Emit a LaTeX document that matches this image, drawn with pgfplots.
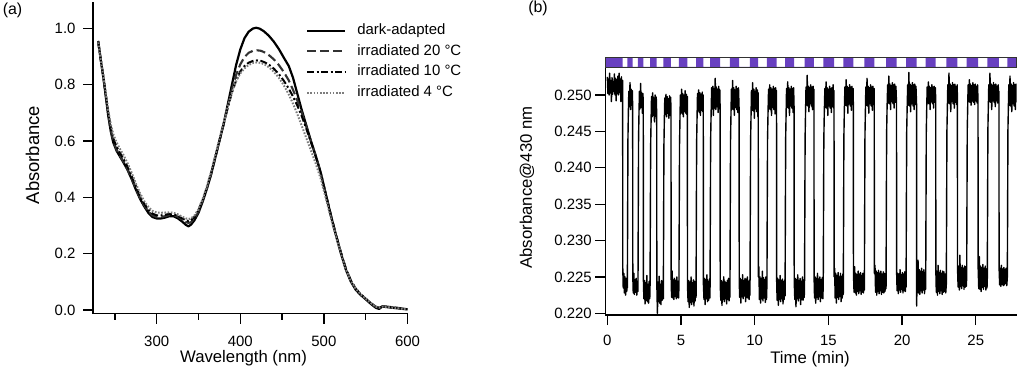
\documentclass[border=0pt]{standalone}
\usepackage{pgfplots}
\pgfplotsset{compat=1.18}
\usepackage{pgfplotstable}
\usepackage{fontspec}
\setmainfont{Liberation Sans}
\definecolor{violetbar}{RGB}{104,64,192}
\definecolor{dgray}{RGB}{50,50,50}
\definecolor{lgray}{RGB}{125,125,125}

\pgfplotstableread{
wl A
230 0.955
233 0.89
236 0.83
239 0.76
242 0.69
245 0.635
248 0.595
252 0.565
256 0.545
260 0.525
265 0.498
270 0.465
275 0.428
280 0.395
285 0.368
290 0.345
295 0.330
300 0.325
305 0.325
310 0.328
315 0.333
320 0.333
325 0.326
330 0.315
335 0.302
338 0.297
341 0.303
345 0.318
350 0.345
355 0.385
360 0.430
365 0.480
370 0.540
375 0.600
380 0.660
385 0.730
390 0.800
395 0.870
400 0.925
405 0.965
410 0.988
415 0.999
419 1.002
423 0.999
428 0.990
434 0.974
440 0.953
446 0.927
452 0.896
458 0.866
463 0.825
468 0.770
473 0.715
478 0.665
484 0.605
490 0.550
496 0.490
502 0.415
508 0.340
514 0.270
520 0.205
526 0.145
532 0.102
538 0.072
544 0.053
550 0.038
556 0.022
562 0.008
566 0.004
570 0.012
576 0.010
582 0.008
588 0.006
594 0.004
600 0.002
}\darktab

\pgfplotstableread{
wl A
230 0.955
233 0.89
236 0.83
239 0.765
242 0.695
245 0.64
248 0.60
252 0.57
256 0.548
260 0.528
265 0.500
270 0.468
275 0.432
280 0.398
285 0.372
290 0.350
295 0.336
300 0.330
305 0.330
310 0.333
315 0.337
320 0.337
325 0.332
330 0.322
335 0.312
338 0.309
341 0.312
345 0.325
350 0.350
355 0.388
360 0.432
365 0.482
370 0.540
375 0.600
380 0.658
385 0.722
390 0.782
395 0.835
400 0.872
405 0.898
410 0.913
415 0.920
420 0.922
425 0.920
430 0.913
435 0.903
440 0.890
446 0.870
452 0.845
458 0.815
463 0.782
468 0.745
473 0.705
478 0.660
484 0.603
490 0.548
496 0.490
502 0.415
508 0.342
514 0.272
520 0.208
526 0.150
532 0.106
538 0.076
544 0.056
550 0.040
556 0.025
562 0.012
566 0.008
570 0.014
576 0.012
582 0.010
588 0.008
594 0.005
600 0.003
}\twentytab

\pgfplotstableread{
wl A
230 0.952
233 0.89
236 0.832
239 0.768
242 0.70
245 0.648
248 0.61
252 0.58
256 0.558
260 0.538
265 0.510
270 0.476
275 0.440
280 0.405
285 0.378
290 0.356
295 0.342
300 0.336
305 0.336
310 0.338
315 0.341
320 0.340
325 0.335
330 0.326
335 0.318
338 0.316
341 0.318
345 0.330
350 0.354
355 0.391
360 0.435
365 0.485
370 0.543
375 0.602
380 0.660
385 0.718
390 0.772
395 0.815
400 0.847
405 0.866
410 0.878
415 0.884
420 0.886
425 0.884
430 0.878
435 0.869
440 0.857
446 0.838
452 0.814
458 0.786
463 0.758
468 0.727
473 0.692
478 0.652
484 0.600
490 0.546
496 0.488
502 0.413
508 0.340
514 0.271
520 0.207
526 0.149
532 0.106
538 0.076
544 0.056
550 0.040
556 0.025
562 0.012
566 0.008
570 0.013
576 0.011
582 0.009
588 0.007
594 0.005
600 0.003
}\tentab

\pgfplotstableread{
wl A
230 0.950
233 0.89
236 0.835
239 0.775
242 0.71
245 0.66
248 0.625
252 0.595
256 0.572
260 0.552
265 0.522
270 0.488
275 0.450
280 0.415
285 0.387
290 0.366
295 0.352
300 0.346
305 0.345
310 0.346
315 0.347
320 0.345
325 0.340
330 0.332
335 0.325
338 0.323
341 0.325
345 0.335
350 0.358
355 0.395
360 0.440
365 0.490
370 0.548
375 0.607
380 0.664
385 0.722
390 0.772
395 0.812
400 0.840
405 0.858
410 0.870
415 0.877
420 0.879
425 0.877
430 0.870
435 0.860
440 0.846
446 0.825
452 0.798
458 0.765
463 0.733
468 0.697
473 0.658
478 0.618
484 0.570
490 0.522
496 0.468
502 0.400
508 0.330
514 0.265
520 0.203
526 0.147
532 0.105
538 0.076
544 0.056
550 0.040
556 0.025
562 0.012
566 0.008
570 0.012
576 0.010
582 0.008
588 0.006
594 0.004
600 0.003
}\fourtab

\pgfplotstableread{
t v
0.00 0.2525
0.04 0.2502
0.08 0.2522
0.12 0.2500
0.16 0.2530
0.20 0.2503
0.24 0.2520
0.28 0.2491
0.32 0.2524
0.36 0.2501
0.40 0.2518
0.44 0.2505
0.48 0.2529
0.52 0.2500
0.56 0.2523
0.60 0.2492
0.64 0.2521
0.68 0.2502
0.72 0.2526
0.76 0.2500
0.80 0.2530
0.84 0.2504
0.88 0.2522
0.92 0.2491
0.96 0.2525
1.00 0.2502
1.04 0.2520
1.05 0.2262
1.08 0.2235
1.12 0.2255
1.16 0.2228
1.20 0.2250
1.24 0.2225
1.28 0.2248
1.32 0.2230
1.35 0.2245
1.36 0.2235
1.40 0.2440
1.43 0.2478
1.46 0.2505
1.50 0.2484
1.54 0.2517
1.58 0.2480
1.62 0.2508
1.66 0.2486
1.70 0.2506
1.72 0.2483
1.73 0.2250
1.76 0.2228
1.80 0.2255
1.84 0.2226
1.88 0.2246
1.92 0.2229
1.96 0.2248
2.00 0.2225
2.04 0.2244
2.08 0.2230
2.12 0.2440
2.15 0.2476
2.18 0.2505
2.22 0.2481
2.26 0.2516
2.30 0.2483
2.34 0.2503
2.38 0.2475
2.42 0.2502
2.44 0.2482
2.45 0.2245
2.48 0.2220
2.52 0.2245
2.56 0.2213
2.60 0.2242
2.64 0.2218
2.68 0.2252
2.72 0.2216
2.76 0.2240
2.80 0.2214
2.84 0.2244
2.88 0.2220
2.90 0.2238
2.94 0.2430
2.97 0.2465
3.00 0.2498
3.04 0.2470
3.08 0.2503
3.12 0.2472
3.16 0.2496
3.20 0.2463
3.24 0.2500
3.28 0.2471
3.32 0.2497
3.35 0.2474
3.36 0.2240
3.40 0.2200
3.44 0.2243
3.48 0.2216
3.52 0.2251
3.56 0.2214
3.60 0.2240
3.64 0.2212
3.68 0.2245
3.72 0.2218
3.76 0.2242
3.80 0.2220
3.84 0.2430
3.87 0.2466
3.90 0.2496
3.94 0.2473
3.98 0.2501
4.02 0.2470
4.06 0.2498
4.10 0.2475
4.14 0.2495
4.18 0.2468
4.22 0.2499
4.26 0.2472
4.30 0.2497
4.32 0.2476
4.33 0.2250
4.36 0.2222
4.40 0.2258
4.44 0.2221
4.48 0.2246
4.52 0.2219
4.56 0.2248
4.60 0.2223
4.64 0.2245
4.68 0.2220
4.72 0.2250
4.76 0.2222
4.80 0.2244
4.84 0.2221
4.86 0.2240
4.90 0.2432
4.93 0.2468
4.96 0.2500
5.00 0.2476
5.04 0.2508
5.08 0.2474
5.12 0.2502
5.16 0.2470
5.20 0.2500
5.24 0.2477
5.28 0.2506
5.32 0.2475
5.36 0.2501
5.40 0.2473
5.43 0.2498
5.44 0.2238
5.48 0.2216
5.52 0.2245
5.56 0.2208
5.60 0.2243
5.64 0.2215
5.68 0.2250
5.72 0.2212
5.76 0.2242
5.80 0.2216
5.84 0.2246
5.88 0.2210
5.92 0.2244
5.96 0.2217
6.00 0.2240
6.02 0.2222
6.06 0.2435
6.09 0.2470
6.12 0.2502
6.16 0.2478
6.20 0.2507
6.24 0.2476
6.28 0.2503
6.32 0.2472
6.36 0.2501
6.40 0.2479
6.44 0.2504
6.48 0.2477
6.51 0.2500
6.52 0.2240
6.56 0.2219
6.60 0.2248
6.64 0.2212
6.68 0.2246
6.72 0.2220
6.76 0.2253
6.80 0.2216
6.84 0.2244
6.88 0.2218
6.92 0.2247
6.96 0.2221
6.97 0.2235
7.01 0.2438
7.04 0.2472
7.08 0.2510
7.12 0.2481
7.16 0.2512
7.20 0.2472
7.24 0.2509
7.28 0.2482
7.32 0.2523
7.36 0.2480
7.40 0.2511
7.44 0.2484
7.48 0.2508
7.52 0.2476
7.56 0.2512
7.60 0.2481
7.64 0.2507
7.65 0.2485
7.66 0.2240
7.70 0.2218
7.74 0.2245
7.78 0.2211
7.82 0.2243
7.86 0.2219
7.90 0.2250
7.94 0.2216
7.98 0.2244
8.02 0.2220
8.06 0.2242
8.10 0.2213
8.14 0.2245
8.18 0.2219
8.22 0.2248
8.26 0.2217
8.30 0.2243
8.32 0.2222
8.36 0.2438
8.39 0.2473
8.42 0.2508
8.46 0.2481
8.50 0.2520
8.54 0.2480
8.58 0.2510
8.62 0.2472
8.66 0.2507
8.70 0.2483
8.74 0.2512
8.78 0.2480
8.82 0.2509
8.86 0.2476
8.90 0.2510
8.94 0.2482
8.95 0.2245
8.98 0.2222
9.02 0.2248
9.06 0.2214
9.10 0.2246
9.14 0.2223
9.18 0.2253
9.22 0.2220
9.26 0.2245
9.30 0.2224
9.34 0.2248
9.38 0.2216
9.42 0.2247
9.46 0.2222
9.50 0.2250
9.54 0.2221
9.58 0.2244
9.62 0.2219
9.66 0.2246
9.68 0.2225
9.72 0.2436
9.75 0.2470
9.78 0.2506
9.82 0.2479
9.86 0.2517
9.90 0.2478
9.94 0.2508
9.98 0.2468
10.02 0.2505
10.06 0.2481
10.10 0.2510
10.14 0.2477
10.18 0.2507
10.22 0.2470
10.24 0.2503
10.25 0.2250
10.28 0.2264
10.32 0.2219
10.36 0.2250
10.40 0.2214
10.44 0.2248
10.48 0.2220
10.52 0.2258
10.56 0.2217
10.60 0.2249
10.64 0.2221
10.68 0.2246
10.72 0.2215
10.76 0.2250
10.80 0.2219
10.83 0.2240
10.87 0.2438
10.90 0.2472
10.94 0.2508
10.98 0.2481
11.02 0.2514
11.06 0.2480
11.10 0.2510
11.14 0.2472
11.18 0.2508
11.22 0.2483
11.26 0.2512
11.30 0.2480
11.34 0.2509
11.38 0.2474
11.42 0.2510
11.46 0.2482
11.48 0.2506
11.49 0.2245
11.52 0.2218
11.56 0.2248
11.60 0.2211
11.64 0.2246
11.68 0.2219
11.72 0.2252
11.76 0.2216
11.80 0.2245
11.84 0.2220
11.88 0.2247
11.92 0.2213
11.96 0.2244
12.00 0.2219
12.04 0.2246
12.06 0.2224
12.10 0.2440
12.13 0.2474
12.16 0.2509
12.20 0.2483
12.24 0.2518
12.28 0.2482
12.32 0.2510
12.36 0.2472
12.40 0.2508
12.44 0.2485
12.48 0.2512
12.52 0.2482
12.56 0.2509
12.60 0.2476
12.64 0.2510
12.67 0.2484
12.68 0.2245
12.72 0.2219
12.76 0.2248
12.80 0.2209
12.84 0.2246
12.88 0.2220
12.92 0.2253
12.96 0.2217
13.00 0.2245
13.04 0.2221
13.08 0.2248
13.12 0.2212
13.16 0.2244
13.20 0.2219
13.24 0.2250
13.28 0.2218
13.32 0.2246
13.36 0.2222
13.38 0.2238
13.42 0.2442
13.45 0.2477
13.48 0.2511
13.52 0.2486
13.56 0.2527
13.60 0.2485
13.64 0.2512
13.68 0.2477
13.72 0.2510
13.76 0.2488
13.80 0.2514
13.84 0.2485
13.88 0.2511
13.92 0.2480
13.96 0.2512
14.00 0.2487
14.02 0.2508
14.03 0.2248
14.06 0.2221
14.10 0.2250
14.14 0.2214
14.18 0.2248
14.22 0.2222
14.26 0.2255
14.30 0.2219
14.34 0.2247
14.38 0.2223
14.42 0.2250
14.46 0.2216
14.50 0.2246
14.54 0.2221
14.58 0.2249
14.62 0.2220
14.65 0.2238
14.69 0.2440
14.72 0.2475
14.76 0.2509
14.80 0.2483
14.84 0.2518
14.88 0.2482
14.92 0.2510
14.96 0.2472
15.00 0.2508
15.04 0.2485
15.08 0.2512
15.12 0.2482
15.16 0.2509
15.20 0.2476
15.24 0.2510
15.28 0.2484
15.32 0.2514
15.36 0.2482
15.38 0.2506
15.39 0.2250
15.42 0.2262
15.46 0.2221
15.50 0.2255
15.54 0.2214
15.58 0.2252
15.62 0.2222
15.66 0.2256
15.70 0.2219
15.74 0.2250
15.78 0.2223
15.82 0.2255
15.86 0.2216
15.90 0.2251
15.94 0.2221
15.98 0.2254
16.01 0.2226
16.05 0.2442
16.08 0.2478
16.12 0.2511
16.16 0.2486
16.20 0.2521
16.24 0.2485
16.28 0.2512
16.32 0.2475
16.36 0.2510
16.40 0.2488
16.44 0.2514
16.48 0.2485
16.52 0.2511
16.56 0.2479
16.60 0.2512
16.64 0.2487
16.68 0.2509
16.69 0.2488
16.70 0.2255
16.74 0.2229
16.78 0.2264
16.82 0.2228
16.86 0.2255
16.90 0.2225
16.94 0.2253
16.98 0.2230
17.02 0.2258
17.06 0.2227
17.10 0.2254
17.14 0.2231
17.18 0.2256
17.22 0.2226
17.26 0.2252
17.30 0.2229
17.34 0.2255
17.38 0.2228
17.42 0.2250
17.44 0.2232
17.48 0.2445
17.51 0.2478
17.54 0.2511
17.58 0.2486
17.62 0.2523
17.66 0.2485
17.70 0.2512
17.74 0.2475
17.78 0.2510
17.82 0.2488
17.86 0.2514
17.90 0.2485
17.94 0.2511
17.98 0.2479
18.02 0.2512
18.06 0.2487
18.10 0.2509
18.11 0.2490
18.12 0.2255
18.16 0.2266
18.20 0.2229
18.24 0.2258
18.28 0.2225
18.32 0.2256
18.36 0.2230
18.40 0.2259
18.44 0.2227
18.48 0.2255
18.52 0.2231
18.56 0.2258
18.60 0.2226
18.64 0.2254
18.68 0.2229
18.72 0.2257
18.76 0.2228
18.80 0.2255
18.84 0.2230
18.88 0.2252
18.91 0.2234
18.95 0.2448
18.98 0.2482
19.02 0.2514
19.06 0.2489
19.10 0.2526
19.14 0.2488
19.18 0.2515
19.22 0.2480
19.26 0.2513
19.30 0.2491
19.34 0.2517
19.38 0.2488
19.42 0.2514
19.46 0.2482
19.50 0.2515
19.54 0.2490
19.58 0.2512
19.62 0.2489
19.63 0.2255
19.66 0.2231
19.70 0.2255
19.74 0.2227
19.78 0.2254
19.82 0.2232
19.86 0.2260
19.90 0.2229
19.94 0.2253
19.98 0.2233
20.02 0.2256
20.06 0.2228
20.10 0.2254
20.14 0.2231
20.18 0.2257
20.22 0.2230
20.26 0.2252
20.27 0.2236
20.31 0.2448
20.34 0.2480
20.38 0.2514
20.42 0.2486
20.46 0.2531
20.50 0.2485
20.54 0.2515
20.58 0.2477
20.62 0.2513
20.66 0.2488
20.70 0.2517
20.74 0.2485
20.78 0.2514
20.82 0.2480
20.86 0.2515
20.90 0.2487
20.94 0.2512
20.98 0.2488
20.99 0.2210
21.01 0.2250
21.04 0.2229
21.08 0.2273
21.12 0.2228
21.16 0.2260
21.20 0.2226
21.24 0.2258
21.28 0.2231
21.32 0.2262
21.36 0.2228
21.40 0.2257
21.44 0.2232
21.48 0.2260
21.52 0.2227
21.56 0.2256
21.60 0.2233
21.64 0.2448
21.67 0.2481
21.70 0.2511
21.74 0.2489
21.78 0.2518
21.82 0.2488
21.86 0.2512
21.90 0.2480
21.94 0.2510
21.98 0.2491
22.02 0.2514
22.06 0.2488
22.10 0.2511
22.14 0.2482
22.18 0.2512
22.22 0.2490
22.26 0.2510
22.28 0.2489
22.29 0.2258
22.32 0.2229
22.36 0.2258
22.40 0.2225
22.44 0.2266
22.48 0.2230
22.52 0.2256
22.56 0.2227
22.60 0.2259
22.64 0.2231
22.68 0.2255
22.72 0.2226
22.76 0.2258
22.80 0.2229
22.84 0.2257
22.88 0.2230
22.92 0.2254
22.96 0.2228
23.00 0.2240
23.04 0.2450
23.07 0.2482
23.10 0.2514
23.14 0.2489
23.18 0.2530
23.22 0.2488
23.26 0.2515
23.30 0.2477
23.34 0.2513
23.38 0.2491
23.42 0.2517
23.46 0.2488
23.50 0.2514
23.54 0.2482
23.58 0.2515
23.62 0.2490
23.66 0.2512
23.70 0.2487
23.74 0.2514
23.75 0.2490
23.76 0.2262
23.80 0.2236
23.84 0.2265
23.88 0.2232
23.92 0.2280
23.96 0.2237
24.00 0.2263
24.04 0.2234
24.08 0.2266
24.12 0.2238
24.16 0.2262
24.20 0.2233
24.24 0.2265
24.28 0.2236
24.32 0.2264
24.36 0.2237
24.38 0.2250
24.42 0.2452
24.45 0.2484
24.48 0.2514
24.52 0.2491
24.56 0.2521
24.60 0.2490
24.64 0.2515
24.68 0.2486
24.72 0.2513
24.76 0.2492
24.80 0.2517
24.84 0.2490
24.88 0.2514
24.92 0.2487
24.96 0.2515
25.00 0.2492
25.04 0.2512
25.08 0.2489
25.12 0.2514
25.15 0.2491
25.16 0.2262
25.20 0.2234
25.24 0.2278
25.28 0.2233
25.32 0.2265
25.36 0.2230
25.40 0.2263
25.44 0.2236
25.48 0.2267
25.52 0.2233
25.56 0.2262
25.60 0.2237
25.64 0.2265
25.68 0.2232
25.72 0.2261
25.76 0.2235
25.78 0.2248
25.82 0.2452
25.85 0.2484
25.88 0.2514
25.92 0.2491
25.96 0.2530
26.00 0.2490
26.04 0.2515
26.08 0.2480
26.12 0.2513
26.16 0.2492
26.20 0.2517
26.24 0.2490
26.28 0.2514
26.32 0.2484
26.36 0.2515
26.40 0.2492
26.44 0.2512
26.48 0.2489
26.52 0.2514
26.56 0.2491
26.57 0.2505
26.58 0.2262
26.62 0.2239
26.66 0.2262
26.70 0.2237
26.74 0.2266
26.78 0.2240
26.82 0.2261
26.86 0.2238
26.90 0.2263
26.94 0.2239
26.98 0.2260
27.02 0.2241
27.06 0.2262
27.10 0.2238
27.14 0.2250
27.18 0.2452
27.21 0.2484
27.24 0.2514
27.28 0.2486
27.32 0.2526
27.36 0.2485
27.40 0.2515
27.44 0.2477
27.48 0.2513
27.52 0.2488
27.56 0.2517
27.60 0.2485
27.64 0.2514
27.68 0.2480
27.72 0.2515
27.75 0.2490
}\kintab

\pgfplotsset{
  igor/.style={
    scale only axis,
    axis lines=left,
    axis line style={-, line width=1.3bp, black},
    tick align=outside,
    major tick length=10bp,
    minor tick length=6bp,
    every tick/.style={black, line width=1.3bp},
    tick label style={font=\fontsize{15}{18}\selectfont},
    label style={font=\fontsize{16.8}{20}\selectfont},
    /pgf/number format/assume math mode=true,
    scaled ticks=false,
  },
}

\begin{document}
\begin{tikzpicture}
% ---------------- panel (a)
\begin{axis}[igor,
  at={(93bp,54.5bp)}, anchor=south west,
  width=314.5bp, height=311.5bp,
  xmin=223.8, xmax=600, ymin=-0.0124, ymax=1.0934,
  xtick={300,400,500,600},
  minor xtick={250,350,450,550},
  ytick={0,0.2,0.4,0.6,0.8,1.0},
  yticklabel style={xshift=-4bp, /pgf/number format/fixed, /pgf/number format/fixed zerofill, /pgf/number format/precision=1},
  xticklabel style={yshift=-9bp},
  xlabel={Wavelength (nm)},
  ylabel={Absorbance},
  xlabel style={at={(axis description cs:0.4785,-0.1420)}, anchor=center},
  ylabel style={at={(axis description cs:-0.1924,0.5088)}, anchor=center, font=\fontsize{18.5}{22}\selectfont},
  legend image code/.code={\draw[#1] (0bp,0bp) -- (38bp,0bp); \path (43bp,0bp);},
  legend cell align=left,
  legend style={draw=none, fill=none, at={(axis description cs:0.677,0.942)}, anchor=north west,
    inner sep=0pt, row sep=0pt, column sep=0pt,
    nodes={font=\fontsize{15}{18}\selectfont, inner xsep=6bp, inner ysep=3.1bp, text height=11bp, text depth=3.5bp}},
]
\addplot[black, line width=2.2bp, line join=round] table[x=wl, y=A] {\darktab};
\addlegendentry{dark-adapted}
\addplot[dgray, line width=2.1bp, dash pattern=on 9bp off 4bp, line join=round] table[x=wl, y=A] {\twentytab};
\addlegendentry{irradiated 20 °C}
\addplot[black, line width=2bp, dash pattern=on 7bp off 2.5bp on 2bp off 2.5bp, line join=round] table[x=wl, y=A] {\tentab};
\addlegendentry{irradiated 10 °C}
\addplot[lgray, line width=2bp, dash pattern=on 1.6bp off 1.6bp, line join=round] table[x=wl, y=A] {\fourtab};
\addlegendentry{irradiated 4 °C}
\end{axis}

% ---------------- panel (b)
\begin{axis}[igor,
  at={(605.3bp,53bp)}, anchor=south west,
  width=411.4bp, height=248.3bp,
  xmin=-0.136, xmax=27.775, ymin=0.21977, ymax=0.25389,
  xtick={0,5,10,15,20,25},
  ytick={0.220,0.225,0.230,0.235,0.240,0.245,0.250},
  yticklabel style={xshift=0bp, /pgf/number format/fixed, /pgf/number format/fixed zerofill, /pgf/number format/precision=3},
  xticklabel style={yshift=-7bp},
  xlabel={Time (min)},
  ylabel={Absorbance@430 nm},
  xlabel style={at={(axis description cs:0.4976,-0.1760)}, anchor=center},
  ylabel style={at={(axis description cs:-0.1903,0.5135)}, anchor=center},
]
\addplot[black, line width=1.4bp, line join=round] table[x=t, y=v] {\kintab};
\end{axis}

% ---------------- light bar above panel (b)
\begin{axis}[
  scale only axis,
  at={(605.3bp,301bp)}, anchor=south west,
  width=411.4bp, height=9.7bp,
  xmin=-0.136, xmax=27.775, ymin=0, ymax=1,
  ticks=none, axis on top,
  axis line style={dgray, line width=0.8bp},
]
\addplot[fill=violetbar, draw=none, const plot] coordinates {
(-0.136,1) (1.04,0) (1.36,1) (1.72,0) (2.08,1) (2.44,0) (2.90,1) (3.35,0)
(3.80,1) (4.32,0) (4.86,1) (5.43,0) (6.02,1) (6.51,0) (6.97,1) (7.65,0)
(8.32,1) (8.94,0) (9.68,1) (10.24,0) (10.83,1) (11.48,0) (12.06,1) (12.67,0)
(13.38,1) (14.02,0) (14.65,1) (15.38,0) (16.01,1) (16.69,0) (17.44,1) (18.11,0)
(18.91,1) (19.62,0) (20.27,1) (20.98,0) (21.60,1) (22.28,0) (23.00,1) (23.75,0)
(24.38,1) (25.15,0) (25.78,1) (26.57,0) (27.14,1) (27.775,1)
} \closedcycle;
\end{axis}

\node[font=\fontsize{16}{19}\selectfont] at (12.5bp,358bp) {(a)};
\node[font=\fontsize{16}{19}\selectfont] at (538bp,360bp) {(b)};

\pgfresetboundingbox
\path[use as bounding box] (0,0) rectangle (1024bp,368bp);
\end{tikzpicture}
\end{document}
